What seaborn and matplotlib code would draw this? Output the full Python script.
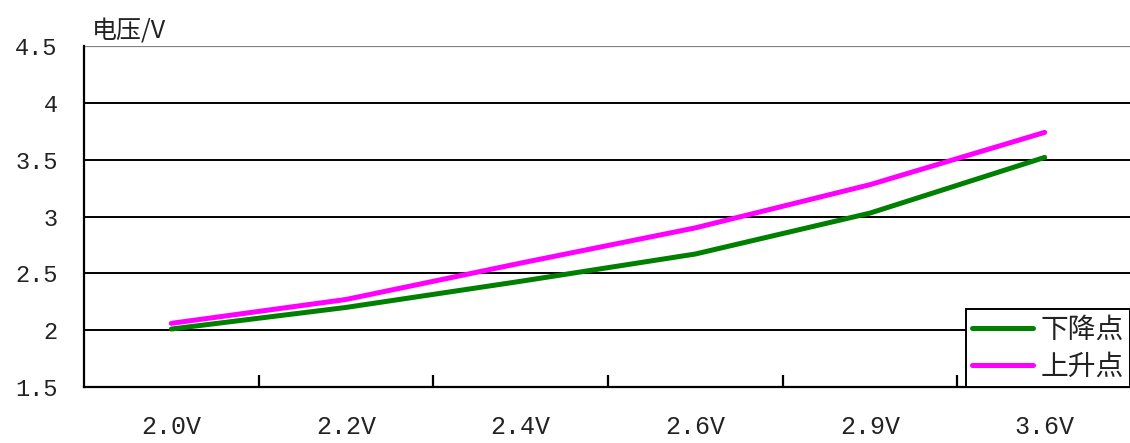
import pandas as pd
import matplotlib
matplotlib.use("Agg")
import matplotlib.pyplot as plt
import seaborn as sns

# data
categories = ["2.0V", "2.2V", "2.4V", "2.6V", "2.9V", "3.6V"]
falling = [2.01, 2.20, 2.43, 2.67, 3.03, 3.52]   # 下降点
rising = [2.06, 2.27, 2.59, 2.90, 3.28, 3.74]    # 上升点
series_names = ["下降点", "上升点"]
y_ticks = [1.5, 2, 2.5, 3, 3.5, 4, 4.5]
y_ticklabels = ["1.5", "2", "2.5", "3", "3.5", "4", "4.5"]

df = pd.DataFrame({
    "x": categories * 2,
    "y": falling + rising,
    "series": [series_names[0]] * len(categories) + [series_names[1]] * len(categories),
})

sns.set_theme(style="white")
plt.rcParams['font.family'] = ['Liberation Mono', 'Noto Sans CJK SC', 'DejaVu Sans']
cjk = ['Noto Sans CJK SC', 'DejaVu Sans']

fig = plt.figure(figsize=(11.3, 4.43), dpi=100)
ax = fig.add_axes([84 / 1130, 56 / 443, 1048 / 1130, 341 / 443])

sns.lineplot(data=df, x="x", y="y", hue="series", sort=False,
             palette={"下降点": "#008000", "上升点": "#FF00FF"},
             linewidth=3.6, ax=ax, legend=True, zorder=3)

ax.set_xlim(-0.5, len(categories) - 0.5)
ax.set_ylim(1.5, 4.5)

# horizontal grid lines
for v in y_ticks[1:-1]:
    ax.axhline(v, color="black", linewidth=1.4, zorder=1)
ax.axhline(4.5, color="#808080", linewidth=1.6, zorder=1)

for side in ["top", "right"]:
    ax.spines[side].set_visible(False)
for side in ["left", "bottom"]:
    ax.spines[side].set_color("black")
    ax.spines[side].set_linewidth(1.6)

ax.set_yticks(y_ticks)
ax.set_yticklabels(y_ticklabels, fontsize=17, color="#222222")
ax.tick_params(axis="y", length=0, pad=19)

ax.set_xticks(range(len(categories)))
ax.set_xticklabels(categories, fontsize=18, color="#222222")
ax.tick_params(axis="x", length=0, pad=20)
# small inward ticks between categories
ax.set_xticks([i + 0.5 for i in range(len(categories) - 1)], minor=True)
ax.tick_params(axis="x", which="minor", direction="in", length=9, width=1.6,
               color="black", bottom=True)

ax.set_xlabel("")
ax.set_ylabel("")
ax.text(8 / 1048, 1.005, "电压/V", transform=ax.transAxes, fontsize=18,
        ha="left", va="bottom", family=cjk, color="#222222")

leg = ax.legend(loc="lower left", bbox_to_anchor=(966 / 1130, 56 / 443),
                bbox_transform=fig.transFigure, frameon=True, fancybox=False,
                framealpha=1, edgecolor="black", handlelength=2.2,
                borderpad=0.2, labelspacing=0.25, handletextpad=0.3,
                borderaxespad=0,
                prop={"family": cjk, "size": 20})
for t in leg.get_texts():
    t.set_color("#222222")
leg.get_frame().set_linewidth(1.4)
leg.set_zorder(5)

fig.savefig("out.png", dpi=100)
